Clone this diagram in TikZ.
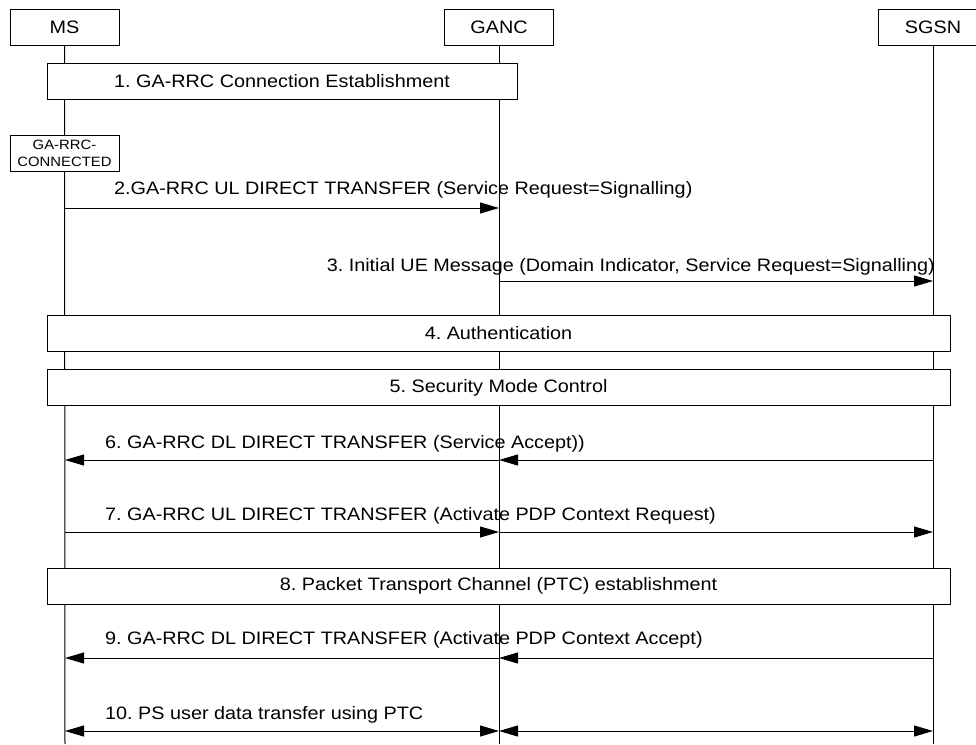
\documentclass[tikz,border=0pt]{standalone}
\usepackage{fontspec}
\setmainfont[FakeStretch=1.1]{Liberation Sans}
\usetikzlibrary{arrows.meta}
\begin{document}
\frenchspacing
\begin{tikzpicture}[x=1pt,y=-1pt,
  every node/.style={font=\fontsize{18}{20}\selectfont, inner sep=0pt},
  head/.style={draw, line width=1pt, minimum width=109pt, minimum height=36pt},
  proc/.style={draw, line width=1pt, fill=white, minimum height=36pt},
  life/.style={line width=1pt},
  tip/.tip={Triangle[length=19pt,width=11pt]},
  msg/.style={line width=1pt, -tip},
  bimsg/.style={line width=1pt, tip-tip},
  lbl/.style={anchor=base west}]
\useasboundingbox (0,0) rectangle (976,744);
% heads
\node[head] (MS) at (64.5,27) {MS};
\node[head] (GANC) at (499,27) {GANC};
\node[head, minimum width=110pt] (SGSN) at (933,27) {SGSN};
% lifeline ends
\coordinate (msE) at (65,744);
\coordinate (gaE) at (499,744);
\coordinate (sgE) at (933,744);
\draw[life] (MS.south) -- (msE);
\draw[life] (GANC.south) -- (gaE);
\draw[life] (SGSN.south) -- (sgE);
% 1
\node[proc, minimum width=470pt] (p1) at (282,81) {1. GA-RRC Connection Establishment};
% state
\node[draw, line width=1pt, fill=white, minimum width=109pt, minimum height=36pt, align=center,
  font=\fontsize{13.5}{17}\selectfont] (st) at (64.5,153) {GA-RRC-\\CONNECTED};
% 2
\coordinate (m2a) at (65,208); \coordinate (m2b) at (499,208);
\draw[msg] (m2a) -- (m2b);
\node[lbl] (l2) at (114,194) {2.GA-RRC UL DIRECT TRANSFER (Service Request=Signalling)};
% 3
\coordinate (m3a) at (499,281); \coordinate (m3b) at (933,281);
\draw[msg] (m3a) -- (m3b);
\node[anchor=base east] (l3) at (935,271) {3. Initial UE Message (Domain Indicator, Service Request=Signalling)};
% 4, 5
\node[proc, minimum width=903pt] (p4) at (498.5,333.5) {4. Authentication};
\node[proc, minimum width=903pt] (p5) at (498.5,387.5) {5. Security Mode Control};
% 6
\coordinate (m6a) at (933,460); \coordinate (m6b) at (499,460); \coordinate (m6c) at (65,460);
\draw[msg] (m6a) -- (m6b);
\draw[msg] (m6b) -- (m6c);
\node[lbl] (l6) at (105,448) {6. GA-RRC DL DIRECT TRANSFER (Service Accept))};
% 7
\coordinate (m7a) at (65,532); \coordinate (m7b) at (499,532); \coordinate (m7c) at (933,532);
\draw[msg] (m7a) -- (m7b);
\draw[msg] (m7b) -- (m7c);
\node[lbl] (l7) at (105,520) {7. GA-RRC UL DIRECT TRANSFER (Activate PDP Context Request)};
% 8
\node[proc, minimum width=903pt] (p8) at (498.5,586) {8. Packet Transport Channel (PTC) establishment};
% 9
\coordinate (m9a) at (933,658); \coordinate (m9b) at (499,658); \coordinate (m9c) at (65,658);
\draw[msg] (m9a) -- (m9b);
\draw[msg] (m9b) -- (m9c);
\node[lbl] (l9) at (105,644) {9. GA-RRC DL DIRECT TRANSFER (Activate PDP Context Accept)};
% 10
\coordinate (m10a) at (65,731); \coordinate (m10b) at (499,731); \coordinate (m10c) at (933,731);
\draw[bimsg] (m10a) -- (m10b);
\draw[bimsg] (m10b) -- (m10c);
\node[lbl] (l10) at (105,719) {10. PS user data transfer using PTC};
\end{tikzpicture}
\end{document}
